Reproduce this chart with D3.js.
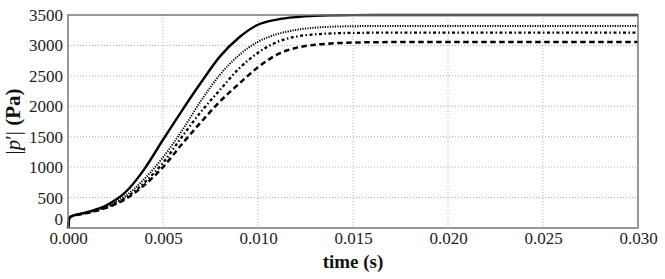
<!DOCTYPE html>
<html>
<head>
<meta charset="utf-8">
<script src="https://cdn.jsdelivr.net/npm/d3@7"></script>
<style>
  body { margin: 0; background: #fff; }
  text { font-family: "Liberation Serif", "DejaVu Serif", serif; }
</style>
</head>
<body>
<div id="chart"></div>
<script>
const WIDTH = 665;
const HEIGHT = 279;
const margin = { top: 15, right: 27, bottom: 51, left: 68 };

// time samples (s)
const times = [0, 0.0001, 0.001, 0.002, 0.003, 0.004, 0.005, 0.006, 0.007, 0.008, 0.009, 0.010,
  0.011, 0.012, 0.013, 0.014, 0.015, 0.017, 0.020, 0.025, 0.030];

// |p'| (Pa) for each case
const solidVals   = [0, 180, 260, 370, 580, 960, 1450, 1930, 2390, 2820, 3130, 3340, 3425, 3466, 3486, 3494, 3498, 3500, 3500, 3500, 3500];
const dottedVals  = [0, 180, 255, 350, 520, 800, 1160, 1600, 2090, 2520, 2840, 3060, 3185, 3255, 3292, 3309, 3316, 3320, 3320, 3320, 3320];
const dashDotVals = [0, 180, 250, 340, 490, 740, 1070, 1500, 1910, 2270, 2620, 2880, 3055, 3145, 3182, 3199, 3206, 3210, 3211, 3211, 3211];
const dashedVals  = [0, 180, 245, 330, 470, 700, 1000, 1380, 1740, 2080, 2370, 2640, 2850, 2960, 3010, 3035, 3047, 3055, 3057, 3057, 3057];

const xTicks = [0, 0.005, 0.010, 0.015, 0.020, 0.025, 0.030];
const yTicks = [0, 500, 1000, 1500, 2000, 2500, 3000, 3500];

const series = [
  { name: 'solid', values: solidVals, dash: null, width: 2.4 },
  { name: 'dotted', values: dottedVals, dash: '1.2,1.3', width: 2 },
  { name: 'dashdot', values: dashDotVals, dash: '3,2.5,1.5,2.5', width: 2.3 },
  { name: 'dashed', values: dashedVals, dash: '5.5,3.5', width: 2.5 }
];

const w = WIDTH - margin.left - margin.right;
const h = HEIGHT - margin.top - margin.bottom;

const svg = d3.select('#chart').append('svg')
  .attr('width', WIDTH)
  .attr('height', HEIGHT);

const g = svg.append('g')
  .attr('transform', `translate(${margin.left},${margin.top})`);

const x = d3.scaleLinear().domain([0, 0.03]).range([0, w]);
const y = d3.scaleLinear().domain([0, 3500]).range([h, 0]);

// grid
g.append('g')
  .selectAll('line')
  .data(xTicks.slice(1, -1))
  .join('line')
    .attr('x1', d => x(d)).attr('x2', d => x(d))
    .attr('y1', 0).attr('y2', h)
    .attr('stroke', '#999').attr('stroke-width', 0.8)
    .attr('stroke-dasharray', '1,2');

g.append('g')
  .selectAll('line')
  .data(yTicks.slice(1, -1))
  .join('line')
    .attr('x1', 0).attr('x2', w)
    .attr('y1', d => y(d)).attr('y2', d => y(d))
    .attr('stroke', '#999').attr('stroke-width', 0.8)
    .attr('stroke-dasharray', '1,2');

// axes (labels only, matplotlib-like)
const xAxis = g.append('g')
  .attr('transform', `translate(0,${h})`)
  .call(d3.axisBottom(x).tickValues(xTicks).tickFormat(d3.format('.3f')).tickSize(0).tickPadding(4));
xAxis.select('.domain').remove();
xAxis.selectAll('text').attr('font-size', 17).attr('fill', '#222')
  .attr('font-family', '"Liberation Serif", serif');

const yAxis = g.append('g')
  .call(d3.axisLeft(y).tickValues(yTicks).tickFormat(d3.format('d')).tickSize(0).tickPadding(5));
yAxis.select('.domain').remove();
yAxis.selectAll('text').attr('font-size', 17).attr('fill', '#222')
  .attr('font-family', '"Liberation Serif", serif');
// lift the "0" so it sits just above the 0.000 label
yAxis.selectAll('.tick').filter(d => d === 0).select('text').attr('dy', '-0.18em');

// curves
const line = d3.line()
  .x((d, i) => x(times[i]))
  .y(d => y(d))
  .curve(d3.curveMonotoneX);

g.append('g')
  .selectAll('path')
  .data(series)
  .join('path')
    .attr('fill', 'none')
    .attr('stroke', '#000')
    .attr('stroke-width', d => d.width)
    .attr('stroke-dasharray', d => d.dash)
    .attr('d', d => line(d.values));

// frame
g.append('rect')
  .attr('x', 0).attr('y', 0)
  .attr('width', w).attr('height', h)
  .attr('fill', 'none')
  .attr('stroke', '#777')
  .attr('stroke-width', 1.5);

// axis labels
svg.append('text')
  .attr('x', margin.left + w / 2)
  .attr('y', 268)
  .attr('text-anchor', 'middle')
  .attr('font-size', 19)
  .attr('font-weight', 'bold')
  .attr('fill', '#111')
  .text('time (s)');

const yl = svg.append('text')
  .attr('transform', `translate(20,${margin.top + h / 2}) rotate(-90)`)
  .attr('text-anchor', 'middle')
  .attr('font-size', 21)
  .attr('fill', '#111');
yl.append('tspan').text('|');
yl.append('tspan').attr('font-style', 'italic').text('p');
yl.append('tspan').text('′| ');
yl.append('tspan').attr('font-weight', 'bold').text('(Pa)');
</script>
</body>
</html>
